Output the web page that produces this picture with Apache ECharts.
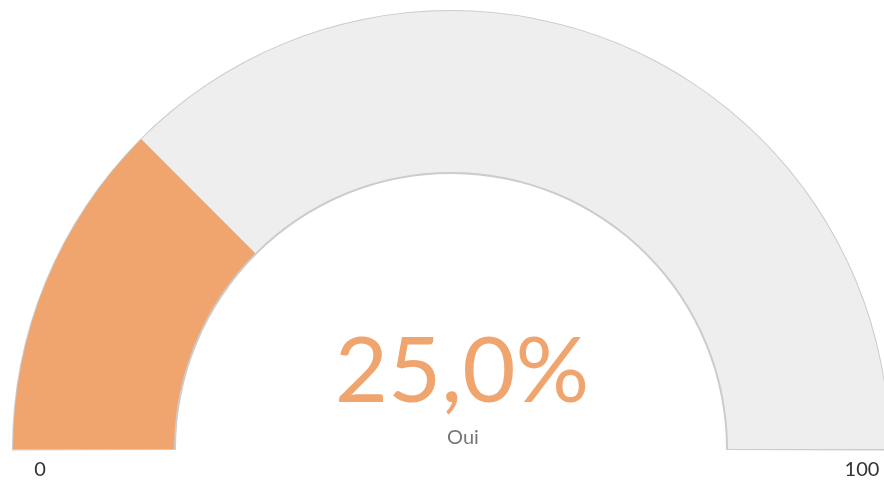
<!DOCTYPE html>
<html>
<head>
<meta charset="utf-8">
<script src="https://cdn.jsdelivr.net/npm/echarts@6/dist/echarts.min.js"></script>
<style>
  html, body { margin: 0; padding: 0; background: #fff; }
  #chart { width: 884px; height: 482px; }
</style>
</head>
<body>
<div id="chart"></div>
<script>
// valeurs du graphique
const seriesName = ['Oui'];
const seriesValue = [25];
const axisMin = 0;
const axisMax = 100;
const tickLabels = ['0', '100'];

const FONT = "'Century Gothic', 'URW Gothic', 'Lato', sans-serif";
const orange = '#f0a56e';

let chart = echarts.init(document.getElementById('chart'));

let fmt = function (v) {
    return v.toFixed(1).replace('.', ',') + '%';
};

let option = {
    backgroundColor: '#fff',
    animation: false,
    series: [
        // bordure grise derriere
        {
            type: 'gauge',
            center: [451, 449],
            radius: 439,
            startAngle: 180.2,
            endAngle: -0.2,
            min: axisMin,
            max: axisMax,
            silent: true,
            z: 1,
            axisLine: {
                lineStyle: { width: 164, color: [[1, '#cccccc']] }
            },
            pointer: { show: false },
            axisTick: { show: false },
            splitLine: { show: false },
            axisLabel: { show: false },
            title: { show: false },
            detail: { show: false },
            data: [{ value: 0 }]
        },
        {
            type: 'gauge',
            center: [451, 449],
            radius: 438,
            startAngle: 180,
            endAngle: 0,
            min: axisMin,
            max: axisMax,
            z: 2,
            axisLine: {
                lineStyle: {
                    width: 161,
                    color: [[seriesValue[0] / axisMax, orange], [1, '#eeeeee']]
                }
            },
            pointer: { show: false },
            axisTick: { show: false },
            splitLine: { show: false },
            axisLabel: { show: false },
            title: {
                offsetCenter: [12, -11],
                color: '#777',
                fontSize: 20,
                fontFamily: FONT
            },
            detail: {
                offsetCenter: [11, -77],
                color: orange,
                fontSize: 92,
                fontWeight: 'normal',
                fontFamily: FONT,
                formatter: fmt
            },
            data: [{ value: seriesValue[0], name: seriesName[0] }]
        }
    ],
    graphic: [
        {
            type: 'text',
            style: { text: tickLabels[0], fill: '#333', font: '20px ' + FONT, align: 'center', verticalAlign: 'middle' },
            x: 40, y: 470
        },
        {
            type: 'text',
            style: { text: tickLabels[1], fill: '#333', font: '20px ' + FONT, align: 'center', verticalAlign: 'middle' },
            x: 862, y: 470
        }
    ]
};
chart.setOption(option);
</script>
</body>
</html>
